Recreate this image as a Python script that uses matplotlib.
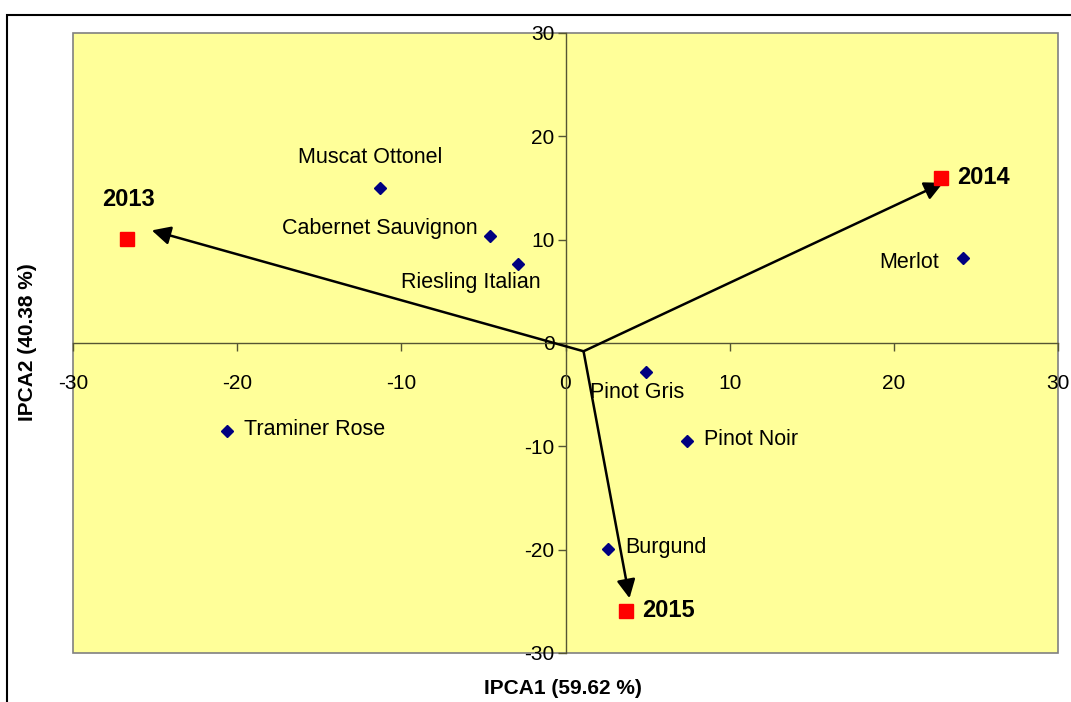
import matplotlib.pyplot as plt
from matplotlib.patches import Rectangle

plt.rcParams['font.family'] = ['Liberation Sans', 'DejaVu Sans']
plt.rcParams['axes.unicode_minus'] = False

# cultivar scores
cultivars = ['Muscat Ottonel', 'Cabernet Sauvignon', 'Riesling Italian', 'Traminer Rose',
             'Pinot Gris', 'Pinot Noir', 'Burgund', 'Merlot']
cult_x = [-11.3, -4.6, -2.9, -20.6, 4.9, 7.4, 2.6, 24.2]
cult_y = [15.0, 10.4, 7.6, -8.5, -2.8, -9.5, -19.9, 8.2]

# year scores
years = ['2013', '2014', '2015']
year_x = [-26.7, 22.9, 3.7]
year_y = [10.1, 16.0, -25.9]

# arrows from common origin to near each year
arrow_origin = (1.1, -0.8)
arrow_tip_x = [-25.2, 23.0, 3.9]
arrow_tip_y = [10.9, 15.5, -24.7]

ticks = [-30, -20, -10, 0, 10, 20, 30]

fig = plt.figure(figsize=(10.71, 7.02), dpi=100)
ax = fig.add_axes([73 / 1071, 1 - 653 / 702, 985 / 1071, 620 / 702])
ax.set_facecolor('#FFFF99')
ax.set_xlim(-30, 30)
ax.set_ylim(-30, 30)

# outer chart border
fig.patches.append(Rectangle((7 / 1071, -0.1), 1.2, 1 - 15 / 702 + 0.1,
                             transform=fig.transFigure, fill=False,
                             edgecolor='black', linewidth=1.5))

# plot area border
ax.add_patch(Rectangle((0, 0), 1, 1, transform=ax.transAxes, fill=False,
                       edgecolor='#808080', linewidth=1.2, clip_on=False, zorder=1))

for side in ['top', 'right']:
    ax.spines[side].set_visible(False)
for side in ['left', 'bottom']:
    ax.spines[side].set_position(('data', 0))
    ax.spines[side].set_color('#555533')
    ax.spines[side].set_linewidth(1.0)

ax.set_xticks(ticks)
ax.set_yticks(ticks)
ax.tick_params(direction='out', length=6, width=1.0, color='#555533', labelsize=15)
ax.tick_params(axis='y', pad=2)
ax.tick_params(axis='x', pad=16)

# arrows
for tx, ty in zip(arrow_tip_x, arrow_tip_y):
    ax.annotate('', xy=(tx, ty), xytext=arrow_origin,
                arrowprops=dict(arrowstyle='-|>', mutation_scale=28, lw=1.8,
                                color='black', shrinkA=0, shrinkB=0), zorder=3)

ax.plot(cult_x, cult_y, linestyle='none', marker='D', ms=6.5, color='#000080', zorder=4)
ax.plot(year_x, year_y, linestyle='none', marker='s', ms=10, color='#FF0000', zorder=4)

# cultivar labels: (offset_x, offset_y, ha, va) in points
cult_offsets = [(-7, 22, 'center', 'center'), (-9, 5, 'right', 'center'),
                (16.5, -13, 'right', 'center'), (12, 1, 'left', 'center'),
                (-40, -15, 'left', 'center'), (12, 1, 'left', 'center'),
                (12, 1, 'left', 'center'), (-17, -3, 'right', 'center')]
for name, x, y, (dx, dy, ha, va) in zip(cultivars, cult_x, cult_y, cult_offsets):
    ax.annotate(name, (x, y), xytext=(dx, dy), textcoords='offset points',
                ha=ha, va=va, fontsize=15.5, zorder=5)

year_offsets = [(1, 28, 'center', 'center'), (11.5, 0, 'left', 'center'),
                (11.5, 0, 'left', 'center')]
for name, x, y, (dx, dy, ha, va) in zip(years, year_x, year_y, year_offsets):
    ax.annotate(name, (x, y), xytext=(dx, dy), textcoords='offset points',
                ha=ha, va=va, fontsize=17, fontweight='bold', zorder=5)

fig.text(563 / 1071, 1 - 688 / 702, 'IPCA1 (59.62 %)', ha='center', va='center',
         fontsize=15, fontweight='bold')
fig.text(28 / 1071, 1 - 342 / 702, 'IPCA2 (40.38 %)', ha='center', va='center',
         rotation=90, fontsize=15, fontweight='bold')

fig.savefig('out.png', dpi=100)
